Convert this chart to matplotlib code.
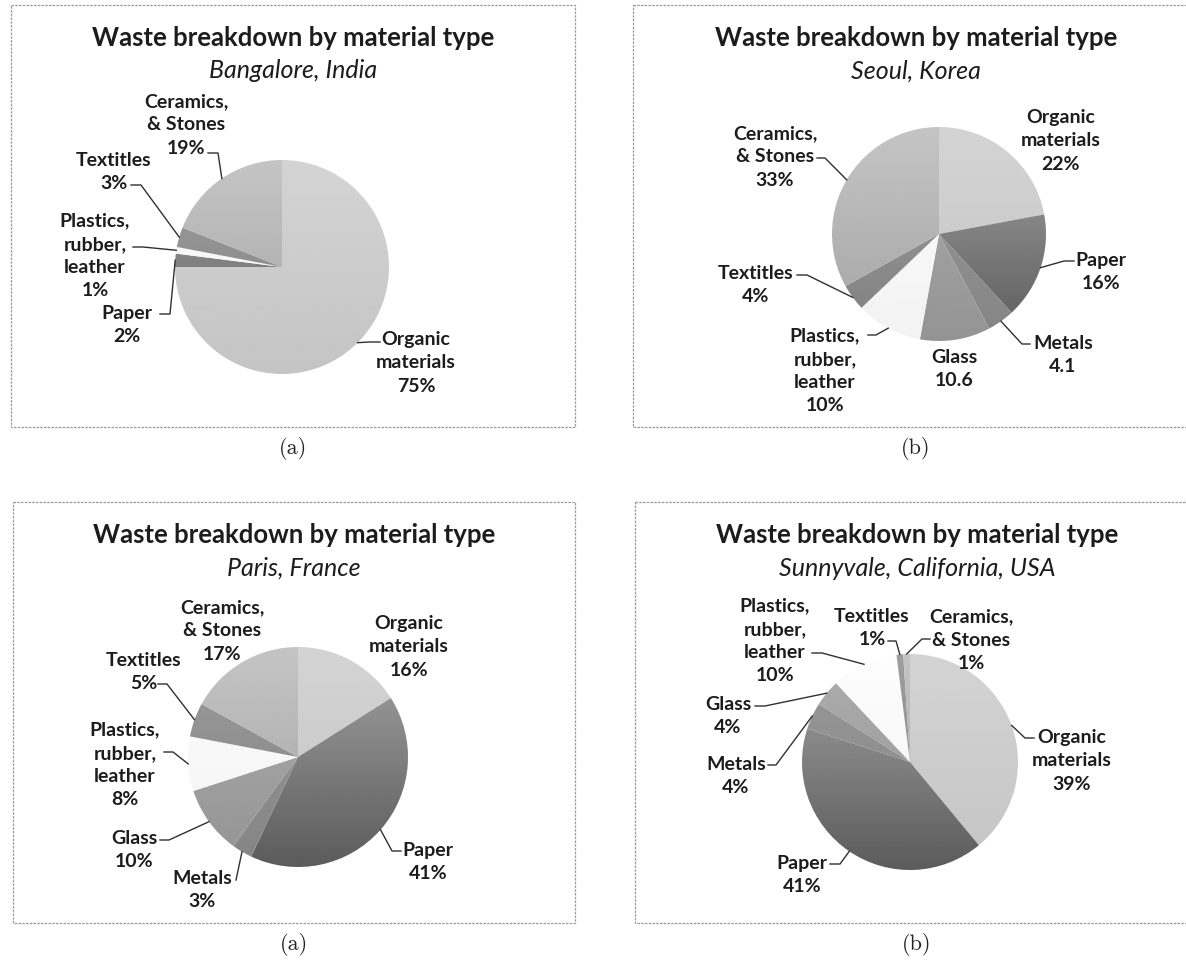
import numpy as np
import matplotlib
matplotlib.use("Agg")
import matplotlib.pyplot as plt
from matplotlib.patches import Rectangle

W, H = 1186, 964

# material categories, in the order the slices run clockwise from 12 o'clock
ORGANIC = "Organic\nmaterials"
PAPER = "Paper"
METALS = "Metals"
GLASS = "Glass"
PLASTICS = "Plastics,\nrubber,\nleather"
TEXTILES = "Textitles"
CERAMICS = "Ceramics,\n& Stones"

bangalore_cats = [ORGANIC, PAPER, PLASTICS, TEXTILES, CERAMICS]
bangalore_vals = [75, 2, 1, 3, 19]

seoul_cats = [ORGANIC, PAPER, METALS, GLASS, PLASTICS, TEXTILES, CERAMICS]
seoul_vals = [22, 16, 4.1, 10.6, 10, 4, 33]
seoul_no_pct = [METALS, GLASS]   # printed as plain numbers in this chart

paris_cats = [ORGANIC, PAPER, METALS, GLASS, PLASTICS, TEXTILES, CERAMICS]
paris_vals = [16, 41, 3, 10, 8, 5, 17]

sunnyvale_cats = [ORGANIC, PAPER, METALS, GLASS, PLASTICS, TEXTILES, CERAMICS]
sunnyvale_vals = [39, 41, 4, 4, 10, 1, 1]

# grey shading per material: (top of pie, bottom of pie)
shades = {
    ORGANIC: (0.83, 0.77),
    PAPER: (0.64, 0.36),
    METALS: (0.60, 0.52),
    GLASS: (0.68, 0.58),
    PLASTICS: (0.99, 0.95),
    TEXTILES: (0.62, 0.50),
    CERAMICS: (0.77, 0.64),
}

plt.rcParams['font.family'] = ['Lato', 'DejaVu Sans']

fig = plt.figure(figsize=(W / 100, H / 100), dpi=100)
ax = fig.add_axes([0, 0, 1, 1])
ax.set_xlim(0, W)
ax.set_ylim(H, 0)
ax.axis('off')

TXT = '#1c1c1c'
LBL_SIZE = 14


def draw_panel(box, city, cats, vals, pie_c, rad, labels, caption, no_pct=()):
    x0, y0, x1, y1 = box
    ax.add_patch(Rectangle((x0, y0), x1 - x0, y1 - y0, fill=False,
                           edgecolor='#9a9a9a', linewidth=0.9,
                           linestyle=(0, (2, 1)), clip_on=False))
    mx = (x0 + x1) / 2
    ax.text(mx, y0 + 33, "Waste breakdown by material type", ha='center',
            va='center', fontsize=18.5, fontweight='bold', color=TXT)
    ax.text(mx, y0 + 66, city, ha='center', va='center', fontsize=18,
            style='italic', color=TXT)
    ax.text(mx, y1 + 22, caption, ha='center', va='center', fontsize=16,
            family='cmr10', color='#222222')

    cx, cy = pie_c
    # y axis points down, so counterclock=True turns clockwise on screen
    wedges, _ = ax.pie(vals, center=(cx, cy), radius=rad, startangle=-90,
                       counterclock=True, wedgeprops=dict(linewidth=0))
    for w, cat in zip(wedges, cats):
        top, bot = shades[cat]
        w.set_facecolor('none')
        ramp = np.linspace(top, bot, 128)[:, None]
        im = ax.imshow(ramp, cmap='gray', vmin=0, vmax=1,
                       extent=(cx - rad, cx + rad, cy + rad, cy - rad),
                       aspect='auto', interpolation='bilinear', zorder=1)
        im.set_clip_path(w)

    for w, cat, v in zip(wedges, cats, vals):
        tx, ty, attach = labels[cat]
        val_txt = f"{v:g}" if cat in no_pct else f"{v:g}%"
        ax.text(tx, ty, f"{cat}\n{val_txt}", ha='center', va='center',
                multialignment='center', fontsize=LBL_SIZE,
                fontweight='bold', color=TXT, linespacing=1.45, zorder=4)
        if attach is None:
            continue
        mid = np.deg2rad((w.theta1 + w.theta2) / 2)
        tip = (cx + rad * np.cos(mid), cy + rad * np.sin(mid))
        axx, ayy, stub = attach
        sgn = 1 if tip[0] >= axx else -1
        xs = [axx, axx + sgn * stub, tip[0]]
        ys = [ayy, ayy, tip[1]]
        ax.plot(xs, ys, color='#303030', linewidth=1.0, zorder=3)


draw_panel((11, 5, 575, 427), "Bangalore, India",
           bangalore_cats, bangalore_vals, (282, 267), 107,
           {ORGANIC: (416, 363, (380, 342, 10)),
            PAPER: (127, 325, (160, 314, 10)),
            PLASTICS: (95, 256, (133, 247, 10)),
            TEXTILES: (114, 172, (131, 185, 10)),
            CERAMICS: (186, 125, (208, 153, 10))},
           "(a)")

draw_panel((633, 5, 1199, 427), "Seoul, Korea",
           seoul_cats, seoul_vals, (939, 234), 107,
           {ORGANIC: (1061, 141, None),
            PAPER: (1101, 272, (1074, 261, 10)),
            METALS: (1063, 355, (1030, 344, 8)),
            GLASS: (954, 369, None),
            PLASTICS: (825, 371, (868, 335, 8)),
            TEXTILES: (756, 285, (797, 275, 10)),
            CERAMICS: (775, 157, (817, 158, 8))},
           "(b)", no_pct=seoul_no_pct)

draw_panel((13, 502, 575, 923), "Paris, France",
           paris_cats, paris_vals, (298, 757), 110,
           {ORGANIC: (409, 647, None),
            PAPER: (428, 862, (401, 851, 9)),
            METALS: (202, 890, (236, 880, 0)),
            GLASS: (134, 850, (160, 840, 9)),
            PLASTICS: (125, 765, (164, 752, 9)),
            TEXTILES: (144, 672, (158, 684, 9)),
            CERAMICS: (222, 631, None)},
           "(a)")

draw_panel((635, 502, 1199, 923), "Sunnyvale, California, USA",
           sunnyvale_cats, sunnyvale_vals, (910, 762), 108,
           {ORGANIC: (1072, 761, (1034, 738, 9)),
            PAPER: (802, 875, (830, 864, 10)),
            METALS: (736, 776, (768, 765, 8)),
            GLASS: (728, 716, (755, 706, 10)),
            PLASTICS: (775, 641, (812, 653, 10)),
            TEXTILES: (872, 628, (888, 641, 8)),
            CERAMICS: (971, 640, (930, 639, 8))},
           "(b)")

ax.set_xlim(0, W)
ax.set_ylim(H, 0)
ax.set_aspect('auto')
ax.axis('off')

fig.savefig("out.png", dpi=100, facecolor='white')
